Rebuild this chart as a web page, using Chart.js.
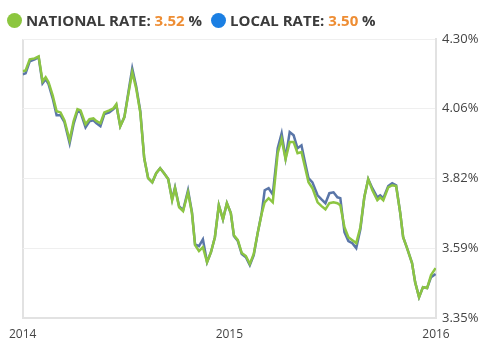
<!DOCTYPE html>
<html>
<head>
<meta charset="utf-8">
<script src="https://cdn.jsdelivr.net/npm/chart.js@4/dist/chart.umd.min.js"></script>
<style>
  html, body { margin: 0; padding: 0; background: #fff; }
  #wrap { position: relative; width: 489px; height: 356px; }
  canvas { position: absolute; left: 0; top: 0; }
  #legend { position: absolute; left: 7px; top: 9px; font-family: "Open Sans", sans-serif; font-weight: 700; font-size: 15px; color: #3b3b3b; white-space: nowrap; line-height: 22px; }
  .dot { display: inline-block; width: 15px; height: 15px; border-radius: 50%; vertical-align: -2px; margin-right: 4px; }
  .val { color: #ee8d33; }
  .item { margin-right: 9px; }
</style>
</head>
<body>
<div id="wrap">
  <canvas id="c" width="489" height="356"></canvas>
  <div id="legend"></div>
</div>
<script>
const seriesNames = ['NATIONAL RATE', 'LOCAL RATE'];
const currentValues = ['3.52', '3.50'];
const seriesColors = ['#8cc542', '#5a76a8'];
const legendDotColors = ['#8cc63f', '#1b7fe3'];

const xTickValues = [2014, 2015, 2016];
const xTickLabels = ['2014', '2015', '2016'];
const yTickValues = [3.35, 3.5875, 3.825, 4.0625, 4.30];
const yTickLabels = ['3.35%', '3.59%', '3.82%', '4.06%', '4.30%'];

// time position, in years after 2014-01-01
const yearOffset = [0.000,0.014,0.034,0.058,0.077,0.096,0.111,0.125,0.145,0.164,
0.183,0.202,0.227,0.246,0.265,0.280,0.304,0.323,0.342,0.357,
0.376,0.395,0.419,0.439,0.453,0.472,0.492,0.516,0.530,0.549,
0.569,0.588,0.607,0.627,0.646,0.665,0.684,0.704,0.723,0.737,
0.757,0.776,0.800,0.819,0.834,0.853,0.872,0.892,0.911,0.930,
0.949,0.969,0.988,1.007,1.022,1.041,1.060,1.080,1.099,1.118,
1.137,1.157,1.171,1.190,1.210,1.234,1.253,1.272,1.292,1.311,
1.330,1.349,1.364,1.383,1.402,1.427,1.446,1.465,1.484,1.504,
1.523,1.537,1.557,1.576,1.595,1.614,1.634,1.653,1.672,1.692,
1.716,1.730,1.745,1.769,1.788,1.807,1.827,1.841,1.860,1.884,
1.899,1.918,1.937,1.957,1.976,1.998];

const national = [4.190,4.193,4.231,4.234,4.241,4.156,4.170,4.153,4.108,4.054,
4.050,4.023,3.955,4.020,4.061,4.057,4.010,4.027,4.030,4.020,
4.013,4.050,4.057,4.064,4.078,4.003,4.034,4.132,4.187,4.132,
4.050,3.894,3.826,3.812,3.843,3.860,3.843,3.823,3.751,3.792,
3.727,3.714,3.778,3.707,3.598,3.578,3.591,3.540,3.574,3.625,
3.734,3.686,3.741,3.707,3.632,3.615,3.571,3.561,3.534,3.568,
3.639,3.707,3.744,3.758,3.744,3.911,3.959,3.891,3.949,3.949,
3.911,3.915,3.870,3.812,3.792,3.744,3.731,3.720,3.741,3.744,
3.741,3.734,3.659,3.625,3.615,3.605,3.659,3.761,3.823,3.785,
3.751,3.761,3.751,3.795,3.802,3.799,3.707,3.625,3.588,3.537,
3.472,3.421,3.455,3.452,3.496,3.520];

const local = [4.180,4.183,4.224,4.231,4.238,4.149,4.163,4.146,4.098,4.040,
4.040,4.017,3.945,4.010,4.054,4.050,3.999,4.020,4.023,4.013,
4.003,4.044,4.050,4.061,4.074,4.003,4.034,4.139,4.200,4.139,
4.054,3.894,3.826,3.812,3.843,3.860,3.843,3.823,3.754,3.795,
3.730,3.717,3.785,3.710,3.601,3.595,3.618,3.540,3.574,3.625,
3.734,3.686,3.741,3.707,3.629,3.612,3.568,3.557,3.530,3.564,
3.639,3.710,3.785,3.792,3.771,3.928,3.979,3.894,3.983,3.972,
3.928,3.938,3.887,3.826,3.812,3.768,3.754,3.741,3.775,3.778,
3.761,3.758,3.642,3.612,3.605,3.588,3.652,3.761,3.823,3.792,
3.761,3.768,3.758,3.799,3.809,3.802,3.707,3.625,3.588,3.537,
3.472,3.421,3.455,3.452,3.489,3.500];

// legend (HTML text)
const legendEl = document.getElementById('legend');
seriesNames.forEach((name, i) => {
  const span = document.createElement('span');
  span.className = 'item';
  span.innerHTML = '<span class="dot" style="background:' + legendDotColors[i] + '"></span>' +
    name + ': <span class="val">' + currentValues[i] + '</span> %';
  legendEl.appendChild(span);
});

const toPoints = arr => arr.map((v, i) => ({ x: 2014 + yearOffset[i], y: v }));

new Chart(document.getElementById('c'), {
  type: 'line',
  data: {
    datasets: [
      { label: seriesNames[0], data: toPoints(national), borderColor: seriesColors[0], borderWidth: 2.5, pointRadius: 0, tension: 0, fill: false },
      { label: seriesNames[1], data: toPoints(local), borderColor: seriesColors[1], borderWidth: 2.5, pointRadius: 0, tension: 0, fill: false }
    ]
  },
  options: {
    responsive: false,
    animation: false,
    events: [],
    layout: { padding: { left: 21, top: 39, right: 0, bottom: 0 } },
    plugins: { legend: { display: false }, tooltip: { enabled: false } },
    scales: {
      x: {
        type: 'linear',
        min: 2014, max: 2016,
        afterBuildTicks: s => { s.ticks = xTickValues.map(v => ({ value: v })); },
        afterFit: s => { s.height = 38; },
        ticks: {
          callback: (v) => xTickLabels[xTickValues.indexOf(v)],
          font: { family: 'Open Sans', size: 12 },
          color: '#444',
          maxRotation: 0,
          padding: 9
        },
        grid: {
          drawTicks: false,
          color: ctx => (ctx.tick && ctx.tick.value === 2015) ? 'rgba(0,0,0,0)' : '#e2e2e2',
          lineWidth: 2
        },
        border: { display: true, color: '#e2e2e2', width: 2 }
      },
      y: {
        position: 'right',
        min: 3.35, max: 4.30,
        afterBuildTicks: s => { s.ticks = yTickValues.map(v => ({ value: v })); },
        afterFit: s => { s.width = 53; },
        ticks: {
          callback: (v) => yTickLabels[yTickValues.indexOf(v)],
          font: { family: 'Open Sans', size: 13 },
          color: '#444',
          padding: 6
        },
        grid: { drawTicks: false, color: '#efefef', lineWidth: 1 },
        border: { display: true, color: '#e2e2e2', width: 2 }
      }
    }
  }
});
</script>
</body>
</html>
